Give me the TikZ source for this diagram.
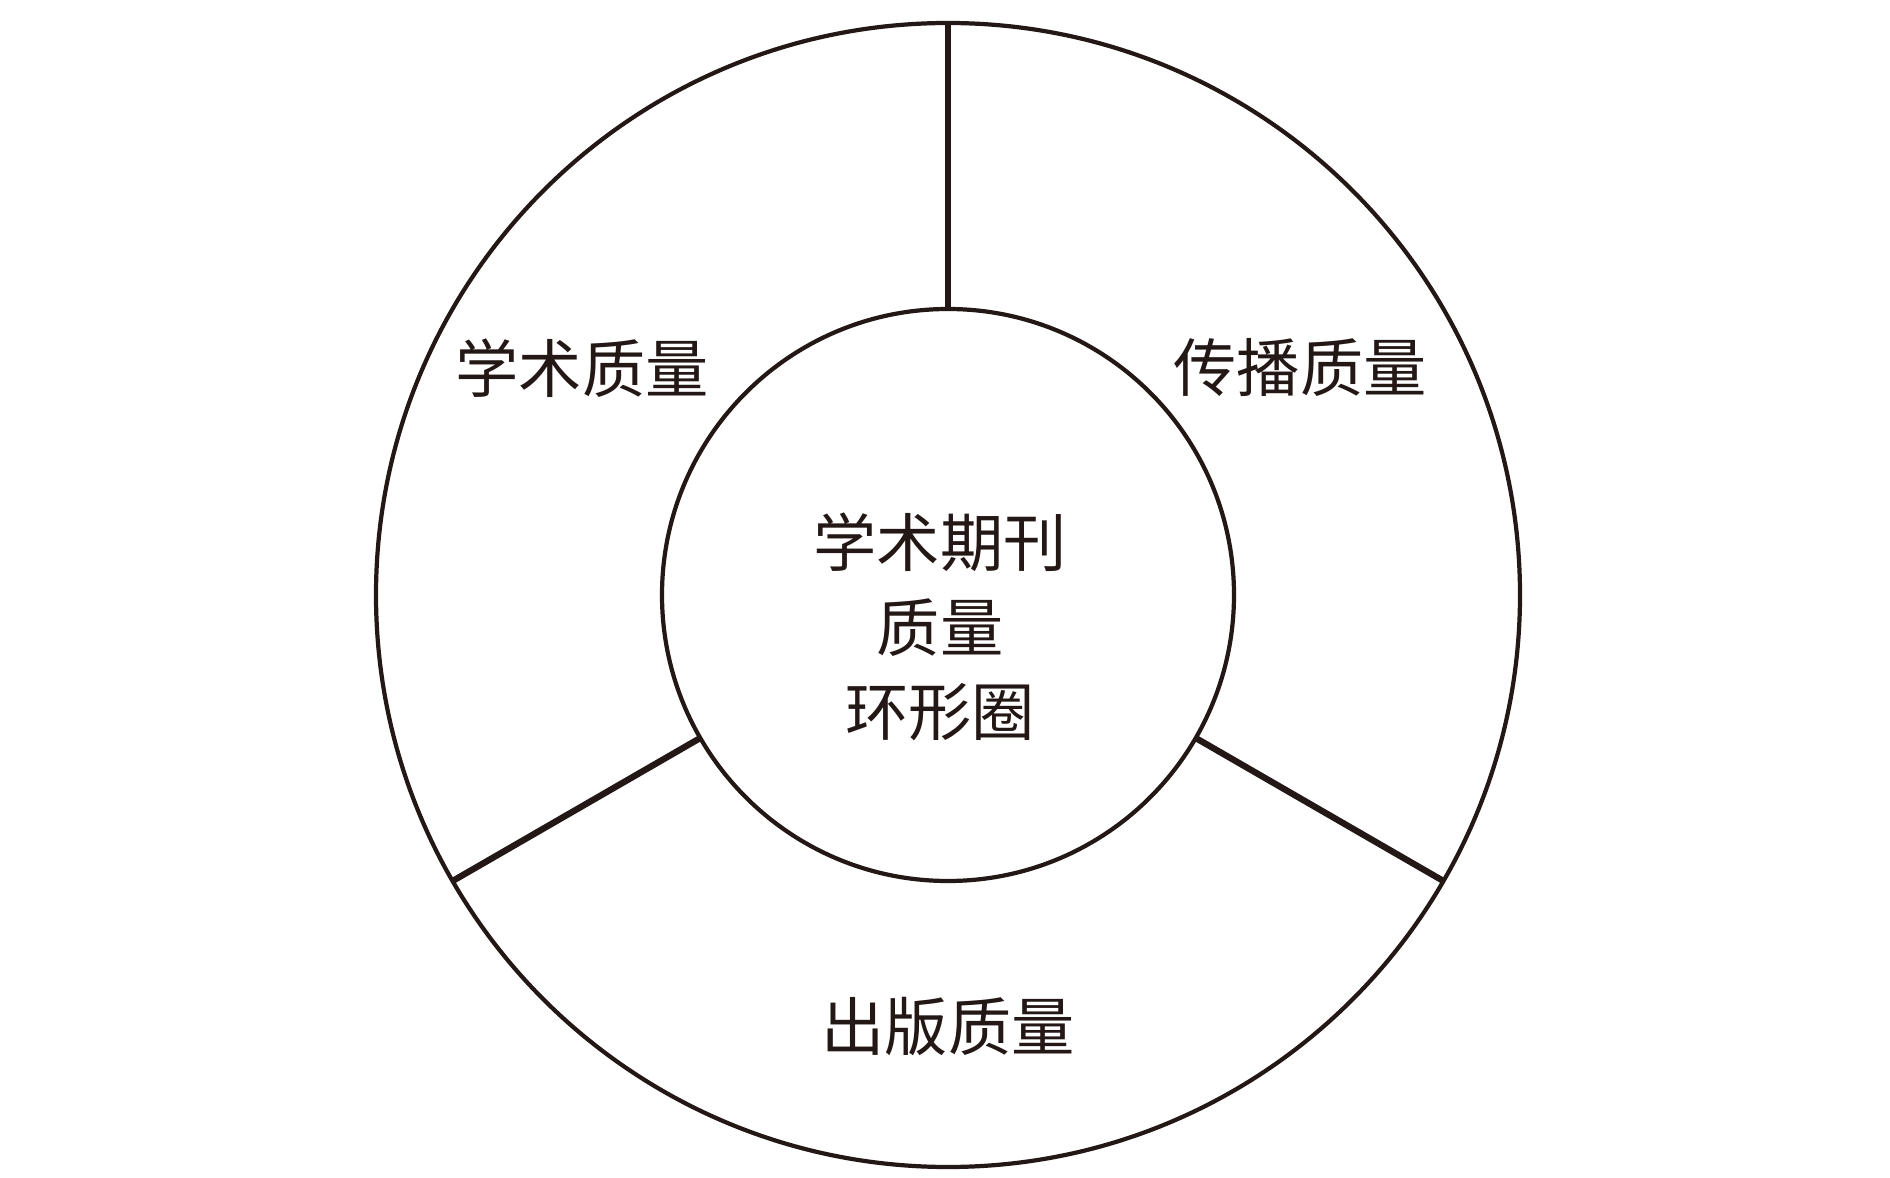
\documentclass[tikz,border=0pt]{standalone}
\usepackage{fontspec}
\newfontfamily\cjk{Noto Sans CJK SC}
\usepackage{xcolor}
\usepackage{tikz}
\usetikzlibrary{positioning, calc}
\definecolor{inkc}{HTML}{231815}
\tikzset{
  ring/.style={circle, draw=inkc, line width=1.2pt, outer sep=0pt,
               inner sep=0pt},
  spoke/.style={draw=inkc, line width=1.8pt},
  lbl/.style={font=\cjk\fontsize{18pt}{24pt}\selectfont, text=inkc,
              align=center, inner sep=0pt},
}

\begin{document}
\begin{tikzpicture}
  \useasboundingbox (0,0) rectangle (18.9,11.77);
  \coordinate (C) at (9.48,5.82);
  \node[ring, minimum size=11.44cm] (outer) at (C) {};
  \node[ring, minimum size=5.72cm]  (inner) at (C) {};
  \foreach \a in {90,210,330}
    \draw[spoke] (inner.\a) -- (outer.\a);
  \node[lbl] (acad) at (5.82,8.09) {学术质量};
  \node[lbl] (comm) at (13.00,8.09) {传播质量};
  \node[lbl] (publ) at (9.48,1.50) {出版质量};
  \node[lbl] (core) at (9.40,5.50) {学术期刊\\质量\\环形圈};
\end{tikzpicture}
\end{document}
